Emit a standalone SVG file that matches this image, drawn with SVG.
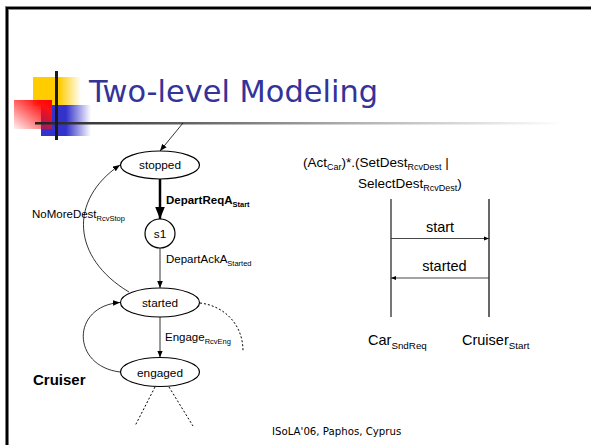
<svg xmlns="http://www.w3.org/2000/svg" width="591" height="445" viewBox="0 0 591 445">
  <defs>
    <linearGradient id="gYellow" x1="0" y1="0" x2="1" y2="0">
      <stop offset="0" stop-color="#ffcc00"/>
      <stop offset="0.55" stop-color="#ffcc00"/>
      <stop offset="1" stop-color="#ffcc00" stop-opacity="0"/>
    </linearGradient>
    <linearGradient id="gBlue" x1="0" y1="0" x2="1" y2="0">
      <stop offset="0" stop-color="#3333cc"/>
      <stop offset="0.5" stop-color="#3333cc"/>
      <stop offset="1" stop-color="#3333cc" stop-opacity="0"/>
    </linearGradient>
    <linearGradient id="gRed" x1="1" y1="0" x2="0" y2="1">
      <stop offset="0" stop-color="#ff0000"/>
      <stop offset="0.2" stop-color="#ff1010"/>
      <stop offset="1" stop-color="#ff0000" stop-opacity="0.05"/>
    </linearGradient>
    <linearGradient id="gRule" x1="0" y1="0" x2="1" y2="0">
      <stop offset="0" stop-color="#222"/>
      <stop offset="0.3" stop-color="#666"/>
      <stop offset="0.6" stop-color="#b0b0b0"/>
      <stop offset="1" stop-color="#fff"/>
    </linearGradient>
    <marker id="arr" viewBox="0 0 10 10" refX="10" refY="5" markerWidth="7" markerHeight="7" markerUnits="userSpaceOnUse" orient="auto">
      <path d="M0,1 L10,5 L0,9 z" fill="#000"/>
    </marker>
    <marker id="arrBig" viewBox="0 0 10 10" refX="10" refY="5" markerWidth="5" markerHeight="5" orient="auto">
      <path d="M0,1 L10,5 L0,9 z" fill="#000"/>
    </marker>
    <marker id="arrSm" viewBox="0 0 10 10" refX="10" refY="5" markerWidth="6" markerHeight="5" markerUnits="userSpaceOnUse" orient="auto">
      <path d="M0,1 L10,5 L0,9 z" fill="#000"/>
    </marker>
  </defs>
  <style>
    .lbl { font-family: "Liberation Sans", Arial, sans-serif; font-size: 11.5px; fill: #000; }
    .sub { font-size: 7.5px; }
    .bold { font-weight: bold; }
    .state { fill: #fff; stroke: #000; stroke-width: 1.2; }
    .st { font-family: "Liberation Sans", Arial, sans-serif; font-size: 11.8px; fill: #000; text-anchor: middle; }
    .expr { font-family: "Liberation Sans", Arial, sans-serif; font-size: 13.5px; fill: #000; }
    .esub { font-size: 9px; }
    .seq { font-family: "Liberation Sans", Arial, sans-serif; font-size: 14.5px; fill: #000; }
    .ssub { font-size: 9.8px; }
    .edge { fill: none; stroke: #000; stroke-width: 0.8; }
    .dash { fill: none; stroke: #000; stroke-width: 1; stroke-dasharray: 2 2; }
  </style>

  <rect width="591" height="445" fill="#fff"/>

  <!-- slide frame -->
  <path d="M7,445 V8 H591" fill="none" stroke="#888" stroke-width="4"/>
  <path d="M7,445 V8 H591" fill="none" stroke="#000" stroke-width="2.2"/>

  <!-- title ornament -->
  <g id="ornament">
    <rect x="33" y="77" width="48" height="29" fill="url(#gYellow)"/>
    <rect x="41" y="105" width="50" height="31" fill="url(#gBlue)"/>
    <rect x="14" y="100" width="38" height="29" fill="url(#gRed)"/>
    <rect x="35" y="122" width="530" height="2.5" fill="url(#gRule)"/>
    <rect x="55" y="71" width="3" height="69" fill="#1a1a1a"/>
  </g>

  <text x="89" y="102" font-family="'DejaVu Sans', sans-serif" font-size="31" fill="#333399" textLength="289" lengthAdjust="spacingAndGlyphs">Two-level Modeling</text>

  <!-- connectors -->
  <g id="connectors">
    <line class="edge" x1="183" y1="123" x2="160" y2="151" marker-end="url(#arr)"/>
    <line x1="160" y1="179" x2="160" y2="219" stroke="#000" stroke-width="2.5" marker-end="url(#arrBig)"/>
    <line class="edge" x1="160" y1="248" x2="160" y2="288" marker-end="url(#arr)"/>
    <line class="edge" x1="160" y1="317" x2="160" y2="357.5" marker-end="url(#arr)"/>
    <path class="edge" d="M129,292 C72,258 68,200 120,165" marker-end="url(#arr)"/>
    <path class="edge" d="M120,372 C71,366 71,306 120,302.5" marker-end="url(#arr)"/>
    <path class="dash" d="M200,303 C225,306 243,325 243,351"/>
    <line class="dash" x1="155" y1="387" x2="135" y2="426"/>
    <line class="dash" x1="169" y1="387" x2="193" y2="426"/>
  </g>

  <!-- states -->
  <g id="stopped">
    <ellipse class="state" cx="160" cy="165" rx="39.5" ry="14"/>
    <text class="st" x="160" y="169">stopped</text>
  </g>
  <g id="s1">
    <ellipse class="state" cx="160" cy="233.5" rx="15" ry="14.5"/>
    <text class="st" x="160" y="238">s1</text>
  </g>
  <g id="started">
    <ellipse class="state" cx="160" cy="302.5" rx="39.5" ry="14.5"/>
    <text class="st" x="160" y="307">started</text>
  </g>
  <g id="engaged">
    <ellipse class="state" cx="160" cy="372" rx="39.5" ry="14.5"/>
    <text class="st" x="160" y="376.5">engaged</text>
  </g>

  <!-- transition labels -->
  <text class="lbl bold" x="166" y="204">DepartReqA<tspan class="sub" dy="2.5">Start</tspan></text>
  <text class="lbl" x="166" y="263">DepartAckA<tspan class="sub" dy="2.5">Started</tspan></text>
  <text class="lbl" x="32" y="218">NoMoreDest<tspan class="sub" dy="3">RcvStop</tspan></text>
  <text class="lbl" x="165" y="341">Engage<tspan class="sub" dy="3">RcvEng</tspan></text>
  <text x="33" y="385" font-family="'Liberation Sans', Arial, sans-serif" font-size="15" font-weight="bold">Cruiser</text>

  <!-- scenario expression -->
  <text class="expr" x="303" y="167">(Act<tspan class="esub" dy="3">Car</tspan><tspan dy="-3">)*.(SetDest</tspan><tspan class="esub" dy="3">RcvDest</tspan><tspan dy="-3">  |</tspan></text>
  <text class="expr" x="358" y="188">SelectDest<tspan class="esub" dy="3">RcvDest</tspan><tspan dy="-3">)</tspan></text>

  <!-- sequence chart -->
  <g id="lifeline-car">
    <line x1="391" y1="199" x2="391" y2="317" stroke="#555" stroke-width="1.6"/>
    <text class="seq" x="368" y="345">Car<tspan class="ssub" dy="4">SndReq</tspan></text>
  </g>
  <g id="lifeline-cruiser">
    <line x1="489" y1="199" x2="489" y2="317" stroke="#000" stroke-width="1.2"/>
    <text class="seq" x="462" y="345">Cruiser<tspan class="ssub" dy="4">Start</tspan></text>
  </g>
  <g id="messages">
    <line x1="391" y1="238.5" x2="489" y2="238.5" stroke="#333" stroke-width="0.9" marker-end="url(#arrSm)"/>
    <text class="seq" x="440" y="232" text-anchor="middle">start</text>
    <line x1="489" y1="278" x2="391" y2="278" stroke="#333" stroke-width="0.9" marker-end="url(#arrSm)"/>
    <text class="seq" x="444.5" y="271" text-anchor="middle">started</text>
  </g>

  <text x="272" y="435" font-family="'DejaVu Sans', Verdana, sans-serif" font-size="10.2">ISoLA'06, Paphos, Cyprus</text>
</svg>
